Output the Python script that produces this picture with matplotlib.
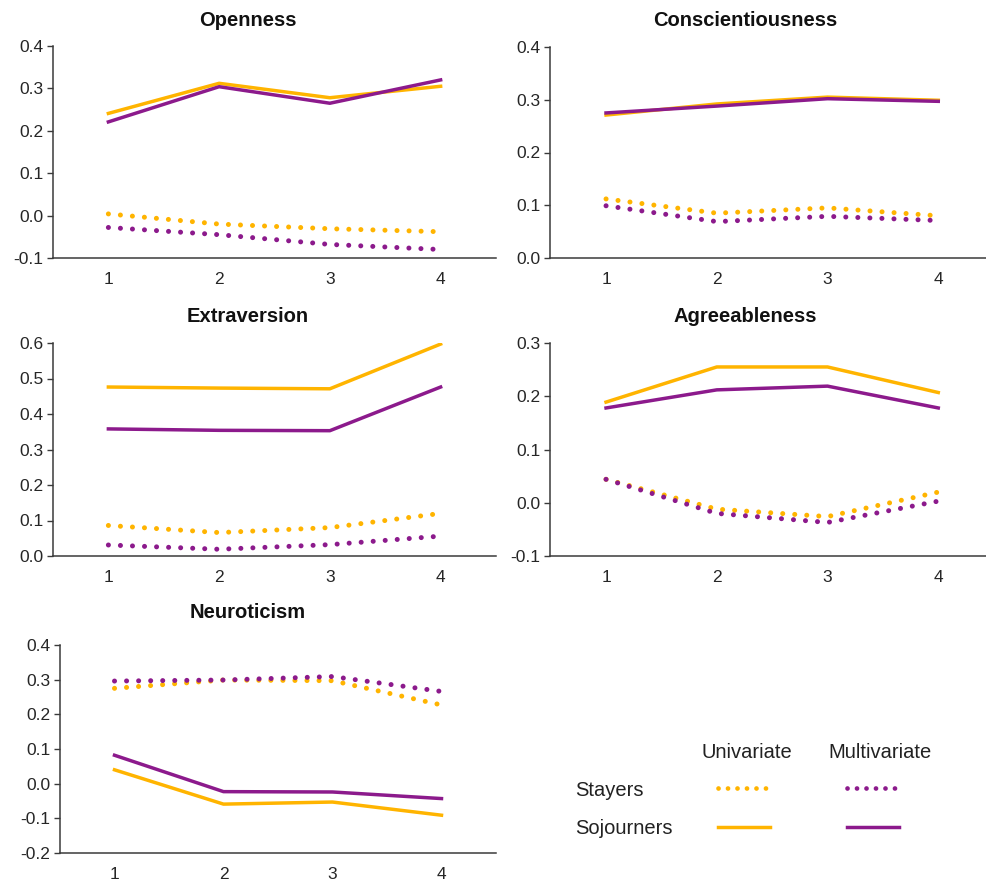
import matplotlib
matplotlib.use('Agg')
from matplotlib import pyplot as plt
from matplotlib.lines import Line2D

plt.rcParams['font.family'] = ['Liberation Sans', 'DejaVu Sans']

# Data
waves = [1, 2, 3, 4]
traits = ['Openness', 'Conscientiousness', 'Extraversion', 'Agreeableness', 'Neuroticism']

# univariate / multivariate, stayers / sojourners
uni_stay = {
    'Openness': [0.004, -0.020, -0.031, -0.038],
    'Conscientiousness': [0.112, 0.085, 0.095, 0.080],
    'Extraversion': [0.086, 0.066, 0.080, 0.120],
    'Agreeableness': [0.044, -0.012, -0.026, 0.020],
    'Neuroticism': [0.275, 0.299, 0.297, 0.227],
}
multi_stay = {
    'Openness': [-0.028, -0.045, -0.068, -0.080],
    'Conscientiousness': [0.099, 0.069, 0.079, 0.071],
    'Extraversion': [0.031, 0.019, 0.032, 0.056],
    'Agreeableness': [0.044, -0.020, -0.037, 0.003],
    'Neuroticism': [0.296, 0.299, 0.309, 0.266],
}
uni_soj = {
    'Openness': [0.241, 0.312, 0.278, 0.305],
    'Conscientiousness': [0.271, 0.292, 0.305, 0.299],
    'Extraversion': [0.476, 0.473, 0.471, 0.597],
    'Agreeableness': [0.189, 0.255, 0.255, 0.207],
    'Neuroticism': [0.040, -0.059, -0.053, -0.091],
}
multi_soj = {
    'Openness': [0.221, 0.304, 0.265, 0.320],
    'Conscientiousness': [0.275, 0.288, 0.302, 0.297],
    'Extraversion': [0.358, 0.354, 0.353, 0.476],
    'Agreeableness': [0.178, 0.212, 0.219, 0.178],
    'Neuroticism': [0.082, -0.023, -0.024, -0.043],
}
y_ticks = {
    'Openness': [-0.1, 0.0, 0.1, 0.2, 0.3, 0.4],
    'Conscientiousness': [0.0, 0.1, 0.2, 0.3, 0.4],
    'Extraversion': [0.0, 0.1, 0.2, 0.3, 0.4, 0.5, 0.6],
    'Agreeableness': [-0.1, 0.0, 0.1, 0.2, 0.3],
    'Neuroticism': [-0.2, -0.1, 0.0, 0.1, 0.2, 0.3, 0.4],
}

GOLD = '#FFB400'
PURPLE = '#8C1A8C'
W, H = 987, 881

# axes boxes in pixels: left, top, right, bottom, xlim
boxes = {
    'Openness': (53, 46, 496, 258, (0.5, 4.5)),
    'Conscientiousness': (550, 47, 987, 258, (0.494, 4.44)),
    'Extraversion': (53, 343, 496, 556, (0.5, 4.5)),
    'Agreeableness': (550, 343, 987, 556, (0.494, 4.44)),
    'Neuroticism': (60, 645, 496, 853, (0.5, 4.5)),
}
title_pos = {
    'Openness': (248, 20),
    'Conscientiousness': (745, 20),
    'Extraversion': (248, 317),
    'Agreeableness': (745, 317),
    'Neuroticism': (248, 613),
}

dot_style = (0, (0.01, 2.4))

fig = plt.figure(figsize=(W / 100, H / 100), dpi=100)

for t in traits:
    l, tp, r, b, xl = boxes[t]
    ax = fig.add_axes([l / W, 1 - b / H, (r - l) / W, (b - tp) / H])
    ax.plot(waves, uni_stay[t], color=GOLD, lw=3.6, linestyle=dot_style,
            dash_capstyle='round', zorder=2)
    ax.plot(waves, multi_stay[t], color=PURPLE, lw=3.6, linestyle=dot_style,
            dash_capstyle='round', zorder=3)
    ax.plot(waves, uni_soj[t], color=GOLD, lw=2.5, zorder=2)
    ax.plot(waves, multi_soj[t], color=PURPLE, lw=2.5, zorder=3)

    yt = y_ticks[t]
    ax.set_ylim(yt[0], yt[-1])
    ax.set_yticks(yt)
    ax.set_yticklabels(['%.1f' % v for v in yt])
    ax.set_xlim(*xl)
    ax.set_xticks(waves)
    for s in ['top', 'right']:
        ax.spines[s].set_visible(False)
    for s in ['left', 'bottom']:
        ax.spines[s].set_color('#3a3a3a')
        ax.spines[s].set_linewidth(1.1)
    ax.spines['bottom'].set_zorder(5)
    ax.tick_params(axis='y', length=4, width=1, color='#3a3a3a', labelsize=12.5,
                   labelcolor='#262626', pad=3)
    ax.tick_params(axis='x', length=0, labelsize=12.5, labelcolor='#262626', pad=10)
    ax.patch.set_alpha(0)

    tx, ty = title_pos[t]
    fig.text(tx / W, 1 - ty / H, t, ha='center', va='center', fontsize=14.5,
             fontweight='bold', color='#111111')

# custom legend
fs = 14.5
fig.text(747 / W, 1 - 752 / H, 'Univariate', ha='center', va='center', fontsize=fs, color='#222222')
fig.text(880 / W, 1 - 752 / H, 'Multivariate', ha='center', va='center', fontsize=fs, color='#222222')
fig.text(575 / W, 1 - 790 / H, 'Stayers', ha='left', va='center', fontsize=fs, color='#222222')
fig.text(575 / W, 1 - 828 / H, 'Sojourners', ha='left', va='center', fontsize=fs, color='#222222')

fig.add_artist(Line2D([718 / W, 770 / W], [1 - 788 / H, 1 - 788 / H], color=GOLD, lw=3.4,
                      linestyle=(0, (0.01, 2.0)), dash_capstyle='round'))
fig.add_artist(Line2D([847 / W, 899 / W], [1 - 788 / H, 1 - 788 / H], color=PURPLE, lw=3.4,
                      linestyle=(0, (0.01, 2.0)), dash_capstyle='round'))
fig.add_artist(Line2D([718 / W, 770 / W], [1 - 827 / H, 1 - 827 / H], color=GOLD, lw=2.5))
fig.add_artist(Line2D([847 / W, 899 / W], [1 - 827 / H, 1 - 827 / H], color=PURPLE, lw=2.5))

fig.savefig('out.png', dpi=100)
